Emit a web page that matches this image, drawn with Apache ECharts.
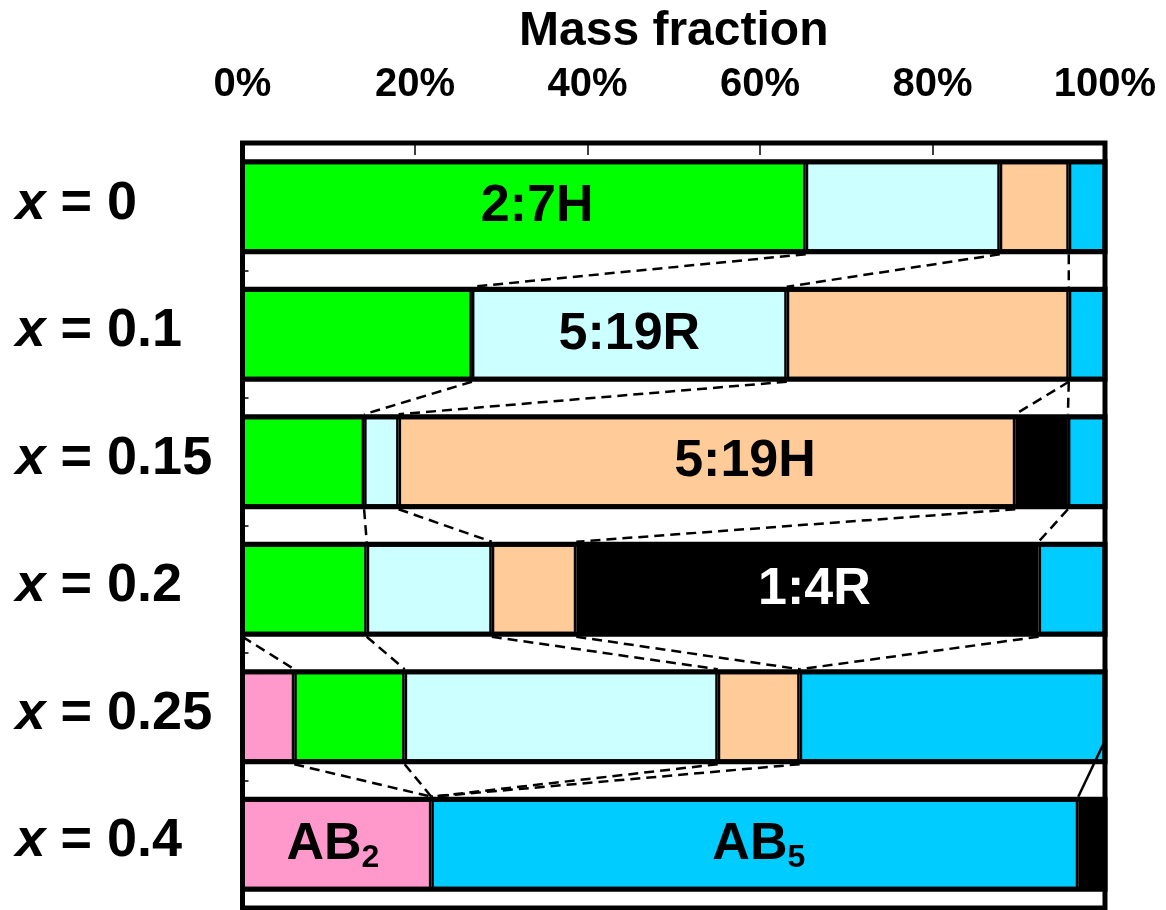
<!DOCTYPE html>
<html>
<head>
<meta charset="utf-8">
<script src="https://cdn.jsdelivr.net/npm/echarts@6/dist/echarts.min.js"></script>
<style>
html,body{margin:0;padding:0;background:#fff;}
#chart{width:1166px;height:910px;}
</style>
</head>
<body>
<div id="chart"></div>
<script>
// ---- data (mass fraction, %) ----
var categories = ['0', '0.1', '0.15', '0.2', '0.25', '0.4'];
var ab2     = [null, null, null, null, 6.0, 21.9];
var h27     = [65.3, 26.6, 14.1, 14.4, 12.8, null];
var r519    = [22.5, 36.5, 4.0, 14.5, 36.3, null];
var h519    = [8.0, 32.7, 71.5, 9.8, 9.5, null];
var r14     = [null, null, 6.1, 53.6, null, null];
var ab5     = [4.2, 4.2, 4.3, 7.7, 35.4, 75.0];
var r14tail = [null, null, null, null, null, 3.1];
var xTicks  = [0, 20, 40, 60, 80, 100];
// links between phase boundaries of consecutive rows: [fromRow, fromBoundary, toRow, toBoundary]
var links = [
  [0,1,1,1],[0,2,1,2],[0,3,1,3],
  [1,1,2,1],[1,2,2,2],[1,3,2,3],[1,3,2,4],
  [2,1,3,1],[2,2,3,2],[2,3,3,3],[2,4,3,4],
  [3,0,4,1],[3,1,4,2],[3,2,4,3],[3,3,4,4],[3,4,4,4],
  [4,1,5,1],[4,2,5,1],[4,3,5,1],[4,4,5,1]
];
var solidLinks = [[4,5,5,2]];

var FONT = 'Liberation Sans, Arial, Helvetica, sans-serif';
var BAR_W = 90, SEG_BORDER = 2.5, OUTLINE = 5;

var seriesDefs = [
  {name: 'AB2',  data: ab2,     color: '#FF99CC'},
  {name: '2:7H', data: h27,     color: '#00FF00'},
  {name: '5:19R',data: r519,    color: '#CCFFFF'},
  {name: '5:19H',data: h519,    color: '#FFCC99'},
  {name: '1:4R', data: r14,     color: '#000000'},
  {name: 'AB5',  data: ab5,     color: '#00CCFF'},
  {name: '1:4R tail', data: r14tail, color: '#000000'}
];

// labels shown inside particular segments
var segLabels = {
  '2:7H':  {row: 0, text: '2:7H', dx: 13, color: '#000'},
  '5:19R': {row: 1, text: '5:19R', dx: 0, color: '#000'},
  '5:19H': {row: 2, text: '5:19H', dx: 38, color: '#000'},
  '1:4R':  {row: 3, text: '1:4R', dx: 7, color: '#fff'},
  'AB2':   {row: 5, text: '{m|AB}{s|2}', dx: -4, color: '#000'},
  'AB5':   {row: 5, text: '{m|AB}{s|5}', dx: 4, color: '#000'}
};

// boundaries per row (cumulative along stacking order)
var bounds = categories.map(function (c, r) {
  var b = [0], acc = 0;
  seriesDefs.forEach(function (s) {
    var v = s.data[r];
    if (v != null) { acc += v; b.push(acc); }
  });
  return b;
});

var barSeries = seriesDefs.map(function (s) {
  var lab = segLabels[s.name];
  return {
    name: s.name,
    type: 'bar',
    stack: 'mass',
    barWidth: BAR_W,
    itemStyle: {color: s.color, borderColor: '#000', borderWidth: SEG_BORDER},
    emphasis: {disabled: true},
    data: s.data.map(function (v, r) {
      var item = {value: v == null ? '-' : v};
      if (lab && lab.row === r) {
        item.label = {
          show: true, position: 'inside', offset: [lab.dx, 0],
          formatter: lab.text, color: lab.color,
          fontFamily: FONT, fontWeight: 'bold', fontSize: 52,
          rich: {
            m: {fontFamily: FONT, fontWeight: 'bold', fontSize: 52, lineHeight: 60, color: lab.color},
            s: {fontFamily: FONT, fontWeight: 'bold', fontSize: 32, lineHeight: 26, verticalAlign: 'bottom', color: lab.color}
          }
        };
      }
      return item;
    })
  };
});

// outline of each whole row bar
var outlineSeries = {
  type: 'custom', z: 4, silent: true,
  encode: {x: [0, 2], y: 1},
  data: categories.map(function (c, r) { return [0, c, bounds[r][bounds[r].length - 1]]; }),
  renderItem: function (params, api) {
    var p1 = api.coord([api.value(0), api.value(1)]);
    var p2 = api.coord([api.value(2), api.value(1)]);
    return {
      type: 'rect',
      shape: {x: p1[0], y: p1[1] - BAR_W / 2, width: p2[0] - p1[0], height: BAR_W},
      style: {fill: null, stroke: '#000', lineWidth: OUTLINE}
    };
  }
};

function linkData(list) {
  return list.map(function (l) {
    return [bounds[l[0]][l[1]], categories[l[0]], bounds[l[2]][l[3]], categories[l[2]]];
  });
}

function makeLinkSeries(list, dashed, startFrac) {
  return {
    type: 'custom',
    z: 5,
    silent: true,
    encode: {x: [0, 2], y: [1, 3]},
    data: linkData(list),
    renderItem: function (params, api) {
      var p1 = api.coord([api.value(0), api.value(1)]);
      var p2 = api.coord([api.value(2), api.value(3)]);
      var half = BAR_W / 2 + OUTLINE / 2;
      var y1 = startFrac != null ? p1[1] + half * startFrac : p1[1] + half;
      return {
        type: 'line',
        shape: {x1: p1[0], y1: y1, x2: p2[0], y2: p2[1] - half},
        style: {stroke: '#000', lineWidth: dashed ? 2.5 : 2.5, lineDash: dashed ? [10, 6] : null}
      };
    }
  };
}

var chart = echarts.init(document.getElementById('chart'), null, {renderer: 'canvas'});
chart.setOption({
  animation: false,
  backgroundColor: '#fff',
  grid: {
    left: 242.5, right: 61, top: 143, height: 765,
    outerBoundsMode: 'none', containLabel: false,
    show: true, borderColor: '#000', borderWidth: 5, backgroundColor: 'transparent'
  },
  xAxis: {
    type: 'value', position: 'top', min: 0, max: 100, interval: 20,
    name: 'Mass fraction', nameLocation: 'middle', nameGap: 87,
    nameTextStyle: {fontFamily: FONT, fontWeight: 'bold', fontSize: 48, color: '#000'},
    axisLine: {show: false},
    axisTick: {show: true, inside: true, length: 12, lineStyle: {color: '#000', width: 1.5}},
    splitLine: {show: false},
    axisLabel: {
      margin: 38, fontFamily: FONT, fontWeight: 'bold', fontSize: 40, color: '#000',
      formatter: function (v) { return xTicks.indexOf(v) >= 0 ? v + '%' : ''; }
    }
  },
  yAxis: {
    type: 'category', inverse: true, data: categories,
    axisLine: {show: false},
    axisTick: {show: true, inside: true, length: 6, lineStyle: {color: '#000', width: 1.5}},
    axisLabel: {
      align: 'left', margin: 227,
      formatter: function (v) { return '{i|x}{n| = ' + v + '}'; },
      rich: {
        i: {fontFamily: FONT, fontWeight: 'bold', fontStyle: 'italic', fontSize: 54, color: '#000', padding: [0, 0, 6, 0]},
        n: {fontFamily: FONT, fontWeight: 'bold', fontSize: 54, color: '#000', padding: [0, 0, 6, 0]}
      }
    }
  },
  series: barSeries.concat([outlineSeries, makeLinkSeries(links, true), makeLinkSeries(solidLinks, false, 0.5)])
});
</script>
</body>
</html>
